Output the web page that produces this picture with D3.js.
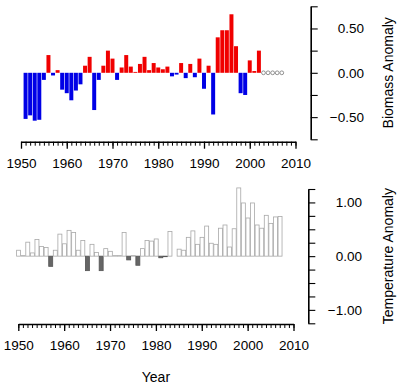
<!DOCTYPE html>
<html>
<head>
<meta charset="utf-8">
<script src="https://cdn.jsdelivr.net/npm/d3@7"></script>
<style>
  html, body { margin: 0; padding: 0; background: #fff; }
  svg { display: block; font-family: "Liberation Sans", Arial, Helvetica, sans-serif; }
  .tick text { font-size: 13.5px; fill: #000; }
  .axis-title { font-size: 14px; fill: #000; }
</style>
</head>
<body>
<div id="chart"></div>
<script>
// --- Data ---
const biomassYears = d3.range(1951, 2003);
const biomassValues = [
  -0.52, -0.48, -0.54, -0.53, -0.08, 0.20, -0.03, 0.03, -0.19,
  -0.23, -0.31, -0.20, -0.13, 0.08, 0.18, -0.42, -0.08, 0.08, 0.25,
  0.16, -0.08, 0.06, 0.20, 0.07, 0.01, 0.10, 0.18, 0.03, 0.11,
  0.06, 0.04, 0.07, -0.04, -0.02, 0.11, -0.06, 0.10, -0.05, 0.16,
  -0.18, 0.08, -0.47, 0.40, 0.48, 0.48, 0.66, 0.30, -0.23, -0.25,
  0.14, 0.02, 0.25
];
const missingYears = [2003, 2004, 2005, 2006, 2007];

const tempYears = d3.range(1950, 2008);
const tempValues = [
  0.11, 0.01, 0.26, 0.06, 0.31, 0.18, 0.16, -0.19, 0.11, 0.41,
  0.23, 0.48, 0.44, 0.11, 0.29, -0.27, 0.22, 0.07, -0.27, 0.14,
  0.09, 0.01, 0.01, 0.44, -0.07, 0.01, -0.17, 0.14, 0.29, 0.28,
  0.32, -0.03, -0.01, 0.46, 0.00, 0.13, 0.11, 0.35, 0.47, 0.22,
  0.35, 0.56, 0.24, 0.22, 0.52, 0.58, 0.17, 0.51, 1.27, 0.99,
  0.71, 0.99, 0.58, 0.52, 0.76, 0.61, 0.73, 0.74
];

const xTicksMajor = [1950, 1960, 1970, 1980, 1990, 2000, 2010];
const xTicksMinor = d3.range(1950, 2011);
const biomassTicks = [-0.75, -0.5, -0.25, 0, 0.25, 0.5, 0.75];
const biomassLabels = [-0.5, 0, 0.5];
const tempTicks = [-1.25, -1, -0.75, -0.5, -0.25, 0, 0.25, 0.5, 0.75, 1, 1.25];
const tempLabels = [-1, 0, 1];

const W = 399, H = 390;
const svg = d3.select('#chart').append('svg').attr('width', W).attr('height', H);

// --- Scales ---
const xTop = d3.scaleLinear().domain([1950, 2010]).range([21, 295.5]);
const yTop = d3.scaleLinear().domain([-0.75, 0.75]).range([139.3, 6.3]);
const xBot = d3.scaleLinear().domain([1950, 2010]).range([18.3, 293.5]);
const yBot = d3.scaleLinear().domain([-1.25, 1.25]).range([323.3, 189]);

const fmt = d3.format('.2f');

function drawXAxis(x, yPos) {
  // minor ticks every year
  const minor = svg.append('g').attr('transform', `translate(0,${yPos})`)
    .call(d3.axisBottom(x).tickValues(xTicksMinor).tickSize(4).tickSizeOuter(0).tickFormat(''));
  minor.select('.domain').attr('stroke-width', 1.6);
  minor.selectAll('.tick line').attr('stroke-width', 1);
  // major ticks with labels
  const major = svg.append('g').attr('transform', `translate(0,${yPos})`)
    .call(d3.axisBottom(x).tickValues(xTicksMajor).tickSize(7).tickSizeOuter(0).tickPadding(9.5).tickFormat(d3.format('d')));
  major.select('.domain').remove();
  major.selectAll('.tick line').attr('stroke-width', 1.3);
  major.selectAll('.tick text').attr('font-family', null);
}

function drawYAxis(y, xPos, ticks, labels, labelRight) {
  const g = svg.append('g').attr('transform', `translate(${xPos},0)`)
    .call(d3.axisRight(y).tickValues(ticks).tickSize(7).tickSizeOuter(0)
      .tickFormat(d => labels.includes(d) ? fmt(d) : ''));
  g.select('.domain').attr('stroke-width', 1.6);
  g.selectAll('.tick line').attr('stroke-width', 1.1);
  g.selectAll('.tick text').attr('font-family', null)
    .attr('text-anchor', 'end').attr('x', labelRight - xPos);
}

// --- Top panel: biomass anomaly ---
const stepTop = xTop(1951) - xTop(1950);
const bwTop = stepTop * 0.87;
svg.append('g').selectAll('rect').data(biomassYears).join('rect')
  .attr('x', (d) => xTop(d) - bwTop / 2)
  .attr('width', bwTop)
  .attr('y', (d, i) => yTop(Math.max(0, biomassValues[i])))
  .attr('height', (d, i) => Math.abs(yTop(biomassValues[i]) - yTop(0)))
  .attr('fill', (d, i) => biomassValues[i] >= 0 ? '#f00000' : '#0000e6');

svg.append('g').selectAll('circle').data(missingYears).join('circle')
  .attr('cx', d => xTop(d)).attr('cy', yTop(0)).attr('r', 1.9)
  .attr('fill', 'none').attr('stroke', '#777').attr('stroke-width', 0.8);

drawXAxis(xTop, 141.7);
drawYAxis(yTop, 310.7, biomassTicks, biomassLabels, 364);

svg.append('text').attr('class', 'axis-title')
  .attr('transform', `translate(393,${yTop(0)}) rotate(-90)`)
  .attr('text-anchor', 'middle').text('Biomass Anomaly');

// --- Bottom panel: temperature anomaly ---
const stepBot = xBot(1951) - xBot(1950);
const bwBot = stepBot - 0.6;
svg.append('g').selectAll('rect').data(tempYears).join('rect')
  .attr('x', d => xBot(d) - bwBot / 2 + 0.3)
  .attr('width', bwBot)
  .attr('y', (d, i) => yBot(Math.max(0, tempValues[i])))
  .attr('height', (d, i) => Math.abs(yBot(tempValues[i]) - yBot(0)))
  .attr('fill', (d, i) => tempValues[i] >= 0 ? '#fff' : '#666')
  .attr('stroke', (d, i) => tempValues[i] >= 0 ? '#a8a8a8' : '#555')
  .attr('stroke-width', 0.8);

drawXAxis(xBot, 324);
drawYAxis(yBot, 308.3, tempTicks, tempLabels, 362);

svg.append('text').attr('class', 'axis-title')
  .attr('transform', `translate(393,${yBot(0)}) rotate(-90)`)
  .attr('text-anchor', 'middle').text('Temperature Anomaly');

svg.append('text').attr('class', 'axis-title')
  .attr('x', (xBot(1950) + xBot(2010)) / 2).attr('y', 381.5)
  .attr('text-anchor', 'middle').text('Year');
</script>
</body>
</html>
